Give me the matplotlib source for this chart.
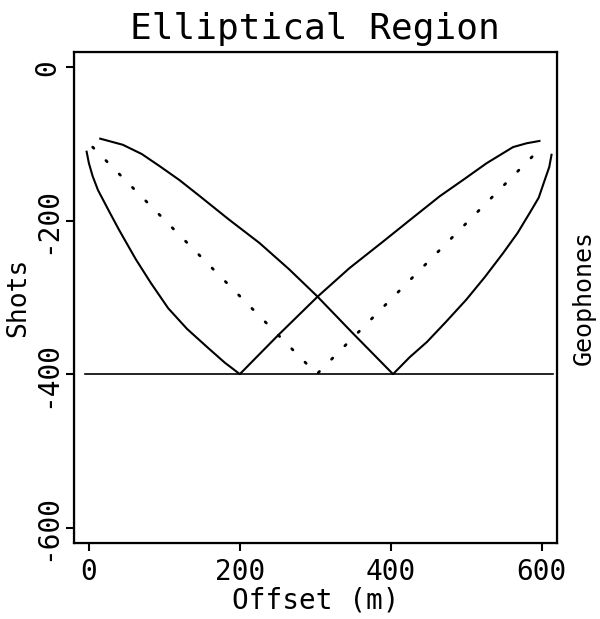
import matplotlib
matplotlib.use("Agg")
import matplotlib.pyplot as plt

plt.rcParams['font.family'] = ['DejaVu Sans Mono']
plt.rcParams['axes.unicode_minus'] = False

# boundary curve through the left bottom point (200, -400)
curve_a_x = [-3, 0, 5, 12, 28, 40, 62, 82, 105, 130, 157, 180, 200,
             250, 303, 345, 390, 428, 465, 497, 527, 547, 562, 580, 597]
curve_a_y = [-110, -125, -142, -160, -190, -212, -250, -281, -314, -341, -365, -385, -400,
             -350, -299, -262, -227, -197, -168, -146, -125, -113, -104, -99, -96]

# boundary curve through the right bottom point (400, -400)
curve_b_x = [15, 45, 70, 94, 120, 147, 185, 226, 265, 302, 350, 403,
             425, 448, 473, 500, 525, 549, 568, 584, 596, 604, 610, 613]
curve_b_y = [-93, -101, -113, -129, -147, -168, -198, -229, -263, -298, -347, -400,
             -378, -358, -332, -303, -273, -242, -216, -190, -170, -147, -130, -114]

# dotted centre V
mid_x = [5, 302, 600]
mid_y = [-104, -400, -104]

# depth line
depth_x = [-5, 615]
depth_y = [-400, -400]

xticks = [0, 200, 400, 600]
yticks = [0, -200, -400, -600]

fig = plt.figure(figsize=(6, 6.19), dpi=100)
ax = fig.add_axes([0.123, 0.123, 0.805, 0.793])

ax.plot(curve_a_x, curve_a_y, color="k", lw=1.5)
ax.plot(curve_b_x, curve_b_y, color="k", lw=1.5)
ax.plot(mid_x, mid_y, color="k", lw=2.0, linestyle=(0, (0.6, 6.2)),
        dash_capstyle="round")
ax.plot(depth_x, depth_y, color="k", lw=1.2)

ax.set_xlim(-20, 620)
ax.set_ylim(-620, 20)
ax.set_xticks(xticks)
ax.set_yticks(yticks)
ax.set_xticklabels([str(v) for v in xticks], fontsize=20)
ax.set_yticklabels([str(v) for v in yticks], fontsize=20, rotation=90, va="center")
ax.tick_params(direction="out", length=6, width=1.5, pad=3)
ax.tick_params(axis="x", pad=5)
for s in ax.spines.values():
    s.set_linewidth(1.6)

ax.set_title("Elliptical Region", fontsize=26, pad=9)
ax.set_xlabel("Offset (m)", fontsize=20, labelpad=0)
ax.set_ylabel("Shots", fontsize=19)
ax.yaxis.set_label_coords(-0.088, 0.5)
ax2 = ax.twinx()
ax2.set_yticks([])
ax2.set_ylabel("Geophones", fontsize=18, rotation=90)
ax2.yaxis.set_label_coords(1.03, 0.5)

fig.savefig("out.png", dpi=100)
